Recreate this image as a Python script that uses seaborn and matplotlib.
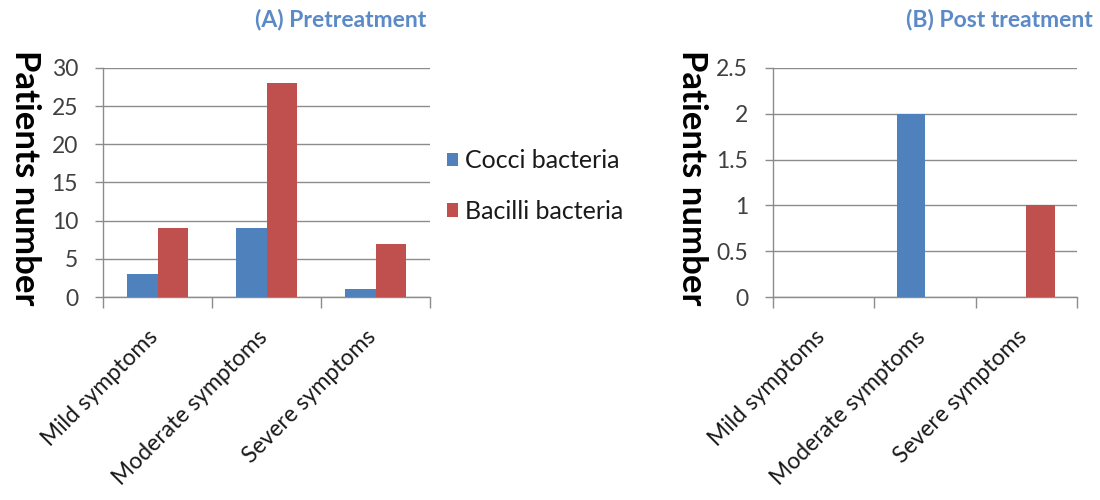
import matplotlib
matplotlib.use("Agg")
import matplotlib.pyplot as plt
import matplotlib.transforms as mtrans
import seaborn as sns
import pandas as pd
from matplotlib.ticker import FixedLocator, MultipleLocator
from matplotlib.patches import Patch

# ---- data ----
categories = ["Mild symptoms", "Moderate symptoms", "Severe symptoms"]
series_names = ["Cocci bacteria", "Bacilli bacteria"]
pre_cocci = [3, 9, 1]
pre_bacilli = [9, 28, 7]
post_cocci = [0, 2, 0]
post_bacilli = [0, 0, 1]
titles = ["(A) Pretreatment", "(B) Post treatment"]
y_label = "Patients number"

colors = {"Cocci bacteria": "#4F81BD", "Bacilli bacteria": "#C0504D"}
GRID = "#8c8c8c"
TICKTXT = "#404040"
TITLE_C = "#5B8AC6"

sns.set_theme(style="white")
plt.rcParams['font.family'] = ['Lato', 'DejaVu Sans']

W, H = 1100, 500
fig = plt.figure(figsize=(11, 5), dpi=100)


def px_ax(l, r, t, b):
    return fig.add_axes([l / W, 1 - b / H, (r - l) / W, (b - t) / H])


def panel(ax, cocci, bacilli, ymax, ystep, fmt):
    df = pd.DataFrame({
        "Symptom": categories * 2,
        "Bacteria": [series_names[0]] * 3 + [series_names[1]] * 3,
        "Patients": list(cocci) + list(bacilli),
    })
    sns.barplot(data=df, x="Symptom", y="Patients", hue="Bacteria",
                order=categories, hue_order=series_names, palette=colors,
                width=0.56, saturation=1, ax=ax, legend=False, linewidth=0)
    ax.set_xlim(-0.5, 2.5)
    ax.set_ylim(0, ymax)
    ax.yaxis.set_major_locator(MultipleLocator(ystep))
    ax.set_yticklabels([fmt(v) for v in ax.get_yticks()])
    ax.grid(axis="y", color=GRID, linewidth=1.0)
    ax.set_axisbelow(True)
    for s in ["top", "right"]:
        ax.spines[s].set_visible(False)
    for s in ["left", "bottom"]:
        ax.spines[s].set_color(GRID)
        ax.spines[s].set_linewidth(1.0)
    ax.spines["bottom"].set_zorder(0.5)
    ax.tick_params(axis="y", length=6, width=1.0, color=GRID, pad=12,
                   labelsize=16.5, labelcolor=TICKTXT, left=True)
    ax.xaxis.set_minor_locator(FixedLocator([-0.5, 0.5, 1.5, 2.5]))
    ax.tick_params(axis="x", which="minor", length=8, width=1.0, color=GRID,
                   bottom=True)
    ax.tick_params(axis="x", which="major", length=0, pad=4,
                   labelsize=16.5, labelcolor="#1a1a1a")
    for lab in ax.get_xticklabels():
        lab.set_rotation(45)
        lab.set_ha("right")
        lab.set_va("top")
        lab.set_rotation_mode("anchor")
    ax.set_xlabel("")
    ax.set_ylabel("")


axA = px_ax(103, 430, 68, 297)
panel(axA, pre_cocci, pre_bacilli, 30, 5, lambda v: f"{int(v)}")
axB = px_ax(773, 1077, 68, 297)
panel(axB, post_cocci, post_bacilli, 2.5, 0.5, lambda v: f"{v:g}")

# move x tick labels so the rotated text starts just below the axis
for ax in (axA, axB):
    off = mtrans.ScaledTranslation(-10 / 100, -24 / 100, fig.dpi_scale_trans)
    for lab in ax.get_xticklabels():
        lab.set_transform(lab.get_transform() + off)

# titles
fig.text(426 / W, 1 - 20 / H, titles[0], ha="right", va="center",
         fontsize=16.5, fontweight="bold", color=TITLE_C)
fig.text(1093 / W, 1 - 20 / H, titles[1], ha="right", va="center",
         fontsize=16.5, fontweight="bold", color=TITLE_C)

# y labels (rotated, reading top-to-bottom)
fig.text(25 / W, 1 - 178 / H, y_label, rotation=270, ha="center", va="center",
         fontsize=25, fontweight="bold", color="black")
fig.text(692 / W, 1 - 178 / H, y_label, rotation=270, ha="center", va="center",
         fontsize=25, fontweight="bold", color="black")

# legend
handles = [Patch(facecolor=colors[n], edgecolor="none", label=n) for n in series_names]
fig.legend(handles=handles, loc="upper left", bbox_to_anchor=(424 / W, 1 - 127 / H),
           frameon=False, fontsize=18, handlelength=0.45, handleheight=0.45,
           handletextpad=0.3, labelspacing=1.1, labelcolor="#1a1a1a")

fig.savefig("out.png", dpi=100)
